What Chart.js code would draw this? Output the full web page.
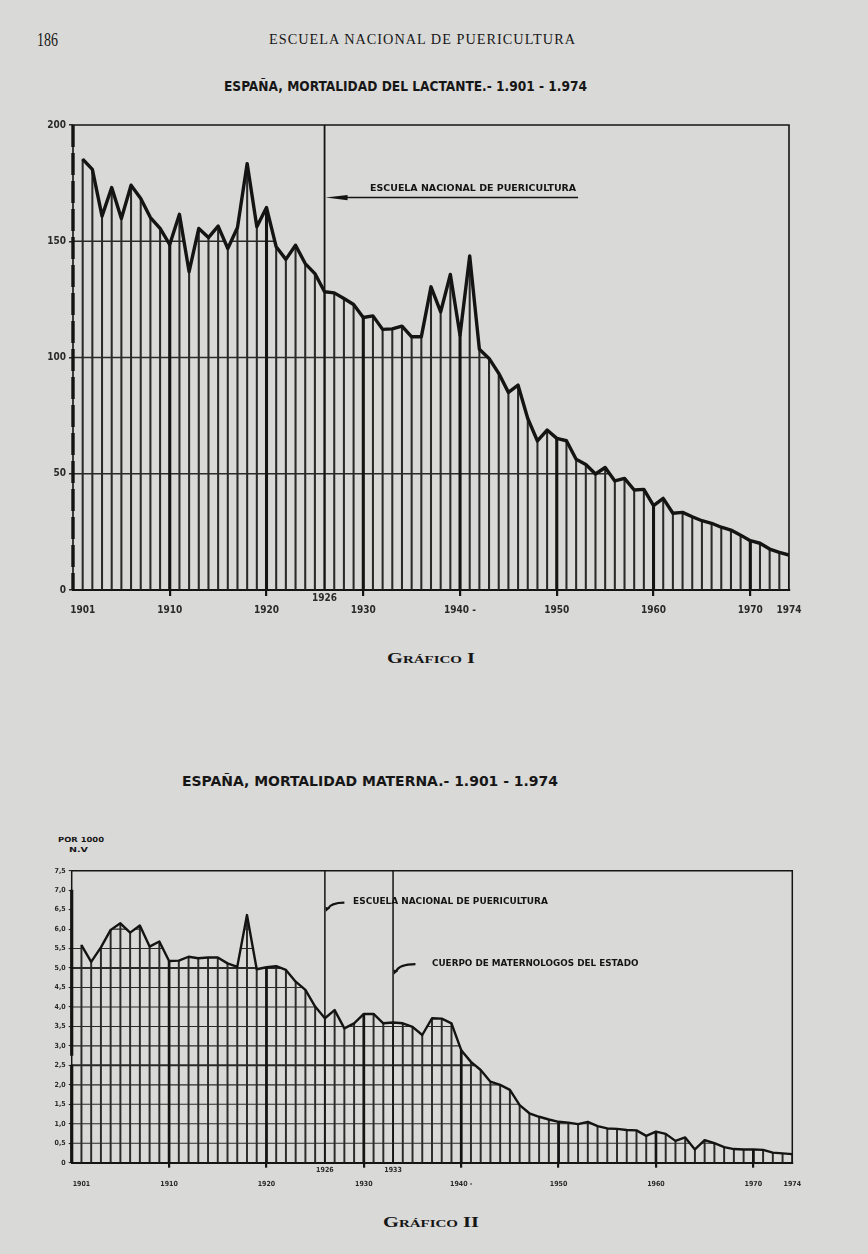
<!DOCTYPE html>
<html>
<head>
<meta charset="utf-8">
<script src="https://cdn.jsdelivr.net/npm/chart.js@4.4.1/dist/chart.umd.min.js"></script>
<style>
html, body { margin: 0; padding: 0; }
body {
    width: 868px; height: 1254px; position: relative; overflow: hidden;
    background: #d9d9d7; color: #161616;
    font-family: "DejaVu Sans Condensed", "Liberation Sans Narrow", sans-serif;
}
.t { position: absolute; white-space: nowrap; transform-origin: left center; }
.serif { font-family: "Liberation Serif", "DejaVu Serif", serif; }
.chart-box { position: absolute; left: 0; width: 868px; }
</style>
</head>
<body>

<div class="t serif fit" data-w="21" data-x="37" data-y="40" data-s="18">186</div>
<div class="t serif fit" data-w="307" data-x="269" data-y="40" data-s="14" style="letter-spacing:1px">ESCUELA NACIONAL DE PUERICULTURA</div>

<div class="t fit" data-w="363" data-x="224" data-y="86" data-s="14" style="font-weight:bold">ESPAÑA, MORTALIDAD DEL LACTANTE.- 1.901 - 1.974</div>

<div class="chart-box" style="top:100px;height:540px"><canvas id="chartLactante" width="868" height="540"></canvas></div>

<div class="t serif fit" data-w="88" data-x="387" data-y="658" data-s="15" style="font-variant:small-caps;font-weight:bold">Gráfico I</div>

<div class="t fit" data-w="376" data-x="182" data-y="781" data-s="14" style="font-weight:bold">ESPAÑA, MORTALIDAD MATERNA.- 1.901 - 1.974</div>
<div class="t fit" data-w="46" data-x="58" data-y="840" data-s="7" style="font-weight:bold">POR 1000</div>
<div class="t fit" data-w="19" data-x="69" data-y="850" data-s="7" style="font-weight:bold">N.V</div>

<div class="chart-box" style="top:850px;height:360px"><canvas id="chartMaterna" width="868" height="360"></canvas></div>

<div class="t serif fit" data-w="96" data-x="383" data-y="1222" data-s="15" style="font-variant:small-caps;font-weight:bold">Gráfico II</div>

<script>
// ---- data ----
const YEARS = Array.from({ length: 74 }, (_, i) => 1901 + i);

// Gráfico I: infant mortality per 1000 live births
const LACTANTE = [
    185.3, 180.9, 160.8, 173.1, 159.8, 174.1, 168.4, 160.2, 155.5, 148.6,
    161.6, 136.9, 155.5, 151.6, 156.5, 146.9, 155.9, 183.4, 156.2, 164.5,
    147.6, 142.2, 148.3, 140.4, 136.1, 128.3, 127.8, 125.4, 122.8, 117.2,
    117.9, 112.1, 112.3, 113.5, 108.9, 108.9, 130.4, 119.6, 135.7, 109.6,
    143.7, 103.5, 99.6, 93.2, 85.0, 88.1, 73.8, 64.1, 68.8, 65.2,
    64.2, 56.2, 54.0, 49.9, 52.7, 46.9, 48.0, 43.0, 43.3, 36.3,
    39.4, 33.0, 33.4, 31.5, 29.8, 28.7, 27.0, 25.8, 23.6, 21.2,
    20.1, 17.6, 16.2, 15.0
];

// Gráfico II: maternal mortality per 1000 live births
const MATERNA = [
    5.59, 5.16, 5.53, 5.98, 6.15, 5.91, 6.09, 5.55, 5.68, 5.18,
    5.19, 5.29, 5.25, 5.27, 5.27, 5.12, 5.03, 6.36, 4.97, 5.02,
    5.05, 4.95, 4.65, 4.44, 4.01, 3.71, 3.92, 3.45, 3.58, 3.82,
    3.82, 3.58, 3.60, 3.58, 3.49, 3.28, 3.71, 3.70, 3.58, 2.89,
    2.59, 2.38, 2.08, 2.00, 1.87, 1.48, 1.27, 1.18, 1.11, 1.05,
    1.03, 0.99, 1.05, 0.94, 0.88, 0.87, 0.84, 0.83, 0.69, 0.80,
    0.74, 0.56, 0.65, 0.34, 0.58, 0.50, 0.40, 0.35, 0.34, 0.34,
    0.33, 0.26, 0.24, 0.22
];

const X_TICKS = [1901, 1910, 1920, 1930, 1940, 1950, 1960, 1970, 1974];
const Y_TICKS_LACTANTE = [0, 50, 100, 150, 200];
const ESCUELA_YEAR = 1926;
const MATERNOLOGOS_YEAR = 1933;
const LABEL_ESCUELA = "ESCUELA NACIONAL DE PUERICULTURA";
const LABEL_CUERPO = "CUERPO DE MATERNOLOGOS DEL ESTADO";

// ---- styles ----
const INK = '#141414';
const GRID = '#2a2a2a';
const FONT = '"DejaVu Sans Condensed", "Liberation Sans Narrow", sans-serif';

// stretch/squeeze html text to the widths measured on the page
document.querySelectorAll('.fit').forEach(el => {
    const s = +el.dataset.s;
    el.style.fontSize = s + 'px';
    el.style.lineHeight = s + 'px';
    el.style.left = el.dataset.x + 'px';
    el.style.top = (el.dataset.y - s * 0.5) + 'px';
    const w = el.getBoundingClientRect().width;
    el.style.transform = `scaleX(${el.dataset.w / w})`;
});

function points(values) {
    return YEARS.map((yr, i) => ({ x: yr, y: values[i] }));
}
function decadePoints(values) {
    return YEARS.map((yr, i) => ({ x: yr, y: yr % 10 === 0 ? values[i] : null }));
}

// text squeezed to a given width, vertically centred on yc
function fitText(ctx, str, x, yc, w, font) {
    ctx.save();
    ctx.font = font;
    const m = ctx.measureText(str).width;
    ctx.translate(x, yc);
    ctx.scale(w / m, 1);
    ctx.textBaseline = 'middle';
    ctx.textAlign = 'left';
    ctx.fillText(str, 0, 0);
    ctx.restore();
}

// horizontal grid only inside the area under the curve
const underCurveGrid = {
    id: 'underCurveGrid',
    beforeDatasetsDraw(chart, args, opts) {
        const { ctx, chartArea: a, scales: { y } } = chart;
        const pts = chart.getDatasetMeta(0).data;
        ctx.save();
        ctx.beginPath();
        ctx.moveTo(a.left, a.bottom);
        ctx.lineTo(a.left, pts[0].y);
        pts.forEach(p => ctx.lineTo(p.x, p.y));
        ctx.lineTo(pts[pts.length - 1].x, a.bottom);
        ctx.closePath();
        ctx.clip();
        ctx.strokeStyle = GRID;
        y.ticks.forEach(t => {
            if (t.value <= y.min || t.value >= y.max) return;
            const py = y.getPixelForValue(t.value);
            ctx.lineWidth = (t.value % opts.thickEvery === 0) ? opts.thick : opts.thin;
            ctx.beginPath();
            ctx.moveTo(a.left, py);
            ctx.lineTo(a.right, py);
            ctx.stroke();
        });
        ctx.restore();
    }
};

function frame(ctx, a, width, axisWidth, axisDash) {
    ctx.lineWidth = width;
    ctx.beginPath();
    ctx.moveTo(a.left, a.top);
    ctx.lineTo(a.right, a.top);
    ctx.lineTo(a.right, a.bottom);
    ctx.stroke();
    // heavy left axis, broken like the printed one
    ctx.save();
    ctx.lineWidth = axisWidth;
    ctx.setLineDash(axisDash);
    ctx.beginPath();
    ctx.moveTo(a.left, a.top);
    ctx.lineTo(a.left, a.bottom);
    ctx.stroke();
    ctx.restore();
    ctx.lineWidth = width;
    ctx.beginPath();
    ctx.moveTo(a.left, a.top);
    ctx.lineTo(a.left, a.bottom);
    ctx.stroke();
}

const lactanteDecor = {
    id: 'lactanteDecor',
    afterDatasetsDraw(chart) {
        const { ctx, chartArea: a, scales: { x, y } } = chart;
        ctx.save();
        ctx.strokeStyle = INK;
        ctx.fillStyle = INK;
        frame(ctx, a, 1.6, 3.4, [22, 6]);

        const ex = x.getPixelForValue(ESCUELA_YEAR);
        ctx.lineWidth = 1.8;
        ctx.beginPath();
        ctx.moveTo(ex, a.top);
        ctx.lineTo(ex, a.bottom);
        ctx.stroke();

        // arrow pointing at the 1926 line, underline of the label
        const ay = y.getPixelForValue(168.8);
        const endX = x.getPixelForValue(1952.2);
        ctx.lineWidth = 1.6;
        ctx.beginPath();
        ctx.moveTo(ex + 18, ay);
        ctx.lineTo(endX, ay);
        ctx.stroke();
        ctx.beginPath();
        ctx.moveTo(ex + 1, ay);
        ctx.lineTo(ex + 23, ay - 2.6);
        ctx.lineTo(ex + 23, ay + 2.6);
        ctx.closePath();
        ctx.fill();

        fitText(ctx, LABEL_ESCUELA, x.getPixelForValue(1930.7), y.getPixelForValue(172.7),
            x.getPixelForValue(1952.0) - x.getPixelForValue(1930.7), 'bold 9px ' + FONT);

        // extra label under the axis
        ctx.fillStyle = '#2a2a2a';
        ctx.font = 'bold 10px ' + FONT;
        ctx.textAlign = 'center';
        ctx.textBaseline = 'middle';
        ctx.fillText(String(ESCUELA_YEAR), ex, a.bottom + 8);
        ctx.restore();
    }
};

function curvedArrow(ctx, x0, y0, x1, y1) {
    ctx.lineWidth = 2.4;
    ctx.beginPath();
    ctx.moveTo(x0 + 2, y0 - 2);
    ctx.quadraticCurveTo(x0 + 5, y1, x1, y1);
    ctx.stroke();
    ctx.beginPath();
    ctx.moveTo(x0, y0 + 1);
    ctx.lineTo(x0 - 0.5, y0 - 4);
    ctx.lineTo(x0 + 4, y0 - 2.5);
    ctx.closePath();
    ctx.fill();
}

const maternaDecor = {
    id: 'maternaDecor',
    afterDatasetsDraw(chart) {
        const { ctx, chartArea: a, scales: { x, y } } = chart;
        ctx.save();
        ctx.strokeStyle = INK;
        ctx.fillStyle = INK;
        frame(ctx, a, 1.5, 3.2, [0.01, 19, 166, 9, 400]);

        const ex = x.getPixelForValue(ESCUELA_YEAR);
        const mx = x.getPixelForValue(MATERNOLOGOS_YEAR);
        ctx.lineWidth = 1.5;
        [ex, mx].forEach(px => {
            ctx.beginPath();
            ctx.moveTo(px, a.top);
            ctx.lineTo(px, a.bottom);
            ctx.stroke();
        });

        curvedArrow(ctx, ex + 1, y.getPixelForValue(6.47), x.getPixelForValue(1928.0), y.getPixelForValue(6.68));
        curvedArrow(ctx, mx + 1, y.getPixelForValue(4.86), x.getPixelForValue(1935.3), y.getPixelForValue(5.10));

        fitText(ctx, LABEL_ESCUELA, x.getPixelForValue(1928.9), y.getPixelForValue(6.70),
            x.getPixelForValue(1948.9) - x.getPixelForValue(1928.9), 'bold 8px ' + FONT);
        fitText(ctx, LABEL_CUERPO, x.getPixelForValue(1937.0), y.getPixelForValue(5.10),
            x.getPixelForValue(1958.2) - x.getPixelForValue(1937.0), 'bold 8px ' + FONT);

        ctx.fillStyle = '#2a2a2a';
        ctx.font = 'bold 7px ' + FONT;
        ctx.textAlign = 'center';
        ctx.textBaseline = 'middle';
        ctx.fillText(String(ESCUELA_YEAR), ex, a.bottom + 7.5);
        ctx.fillText(String(MATERNOLOGOS_YEAR), mx, a.bottom + 7.5);
        ctx.restore();
    }
};

function xAxis(fontSize, tickLen, pad, height) {
    return {
        type: 'linear',
        min: 1900,
        max: 1974,
        offset: false,
        afterBuildTicks: s => { s.ticks = X_TICKS.map(v => ({ value: v })); },
        afterFit: s => { s.height = height; },
        grid: {
            offset: false,
            drawOnChartArea: false,
            drawTicks: true,
            tickLength: tickLen,
            lineWidth: 2.2,
            color: c => (c.tick && c.tick.value % 10 === 0) ? INK : 'rgba(0,0,0,0)'
        },
        border: { display: true, color: INK, width: 2 },
        ticks: {
            autoSkip: false,
            maxRotation: 0,
            padding: pad,
            color: '#2a2a2a',
            font: { family: FONT, size: fontSize, weight: 'bold' },
            callback: v => v === 1940 ? '1940 -' : String(v)
        }
    };
}

function datasets(values, lineWidth, barWidth, decadeWidth) {
    return [
        {
            type: 'line',
            data: points(values),
            borderColor: INK,
            borderWidth: lineWidth,
            borderJoinStyle: 'round',
            pointRadius: 0,
            tension: 0,
            fill: false,
            order: 0
        },
        {
            type: 'bar',
            data: decadePoints(values),
            backgroundColor: INK,
            barThickness: decadeWidth,
            grouped: false,
            order: 1
        },
        {
            type: 'bar',
            data: points(values),
            backgroundColor: GRID,
            barThickness: barWidth,
            grouped: false,
            order: 2
        }
    ];
}

const common = {
    responsive: false,
    animation: false,
    events: [],
    plugins: { legend: { display: false }, tooltip: { enabled: false } }
};

new Chart(document.getElementById('chartLactante'), {
    type: 'line',
    data: { datasets: datasets(LACTANTE, 3.4, 1.4, 2.4) },
    options: {
        ...common,
        plugins: { ...common.plugins, underCurveGrid: { thin: 1.5, thick: 1.5, thickEvery: 50 } },
        layout: { padding: { left: 20, right: 79, top: 25, bottom: 20 } },
        scales: {
            x: xAxis(10, 6, 8, 30),
            y: {
                min: 0,
                max: 200,
                afterBuildTicks: s => { s.ticks = Y_TICKS_LACTANTE.map(v => ({ value: v })); },
                afterFit: s => { s.width = 53; },
                grid: { drawOnChartArea: false, color: GRID, lineWidth: 1.5, tickLength: 4 },
                border: { display: false },
                ticks: {
                    padding: 3,
                    color: '#2a2a2a',
                    font: { family: FONT, size: 10, weight: 'bold' }
                }
            }
        }
    },
    plugins: [underCurveGrid, lactanteDecor]
});

new Chart(document.getElementById('chartMaterna'), {
    type: 'line',
    data: { datasets: datasets(MATERNA, 2.4, 1.3, 2.0) },
    options: {
        ...common,
        plugins: { ...common.plugins, underCurveGrid: { thin: 1.1, thick: 2, thickEvery: 2.5 } },
        layout: { padding: { left: 20, right: 75.7, top: 20.7, bottom: 17.3 } },
        scales: {
            x: xAxis(7, 5, 12, 30),
            y: {
                min: 0,
                max: 7.5,
                ticks: {
                    stepSize: 0.5,
                    padding: 3,
                    color: '#2a2a2a',
                    font: { family: FONT, size: 7, weight: 'bold' },
                    callback: v => v === 0 ? '0' : v.toFixed(1).replace('.', ',')
                },
                afterFit: s => { s.width = 51.7; },
                grid: { drawOnChartArea: false, color: GRID, tickLength: 3, lineWidth: 1.1 },
                border: { display: false }
            }
        }
    },
    plugins: [underCurveGrid, maternaDecor]
});
</script>
</body>
</html>
